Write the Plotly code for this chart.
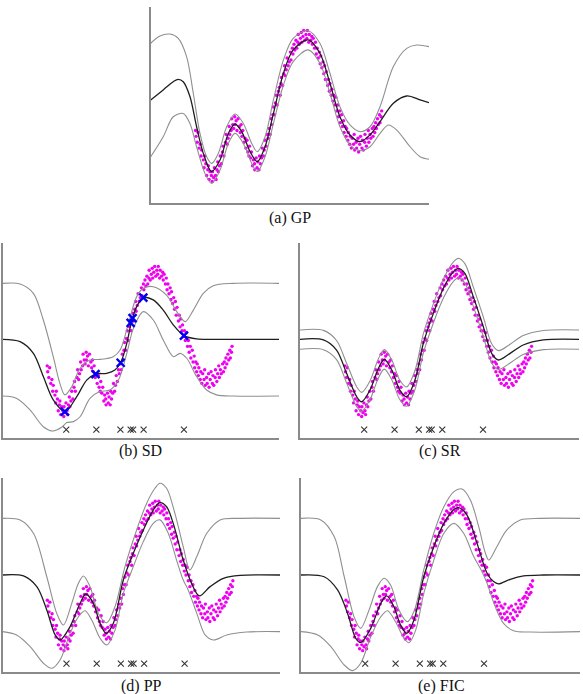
import plotly.graph_objects as go

# ---------------- data (normalised 0-100 coordinates in each panel box) ----------------
data_x = [16.1,16.3,16.7,17.0,17.4,17.8,18.1,18.3,18.9,19.2,19.4,19.8,20.1,20.5,20.7,21.0,21.3,21.8,
          22.1,22.2,22.6,22.9,23.3,23.5,23.8,24.1,24.3,24.7,25.0,25.4,25.8,26.0,26.3,26.9,27.1,27.5,27.8,
          28.2,28.4,28.9,29.1,29.5,29.8,30.2,30.3,30.7,31.0,31.4,31.9,32.2,32.5,32.8,33.1,33.5,33.9,
          34.2,34.6,34.9,35.3,35.5,35.9,36.2,36.6,36.9,37.3,37.4,37.9,38.2,38.5,38.9,39.1,39.4,39.8,
          40.1,40.5,40.8,41.1,41.5,41.9,42.2,42.6,42.9,43.3,43.5,43.9,44.1,44.5,44.8,45.1,45.4,45.9,
          46.2,46.5,46.8,47.0,47.4,47.8,48.1,48.3,48.7,49.0,49.4,49.8,50.2,50.4,50.9,51.1,51.5,51.8,
          52.2,52.5,52.9,53.0,53.4,53.8,54.1,54.3,54.7,55.0,55.4,55.8,56.1,56.3,56.8,57.0,57.5,57.9,
          58.1,58.4,58.9,59.2,59.5,59.8,60.2,60.6,60.9,61.1,61.5,61.9,62.2,62.5,62.8,63.1,63.6,63.9,
          64.2,64.4,64.9,65.1,65.5,65.8,66.1,66.5,66.9,67.2,67.5,67.9,68.1,68.6,68.9,69.3,69.5,69.9,
          70.2,70.4,70.8,71.0,71.5,71.7,72.1,72.4,72.9,73.1,73.3,73.8,74.0,74.5,74.7,75.1,75.4,75.9,
          76.1,76.4,76.9,77.0,77.5,77.8,78.2,78.4,78.8,79.1,79.6,79.9,80.2,80.5,80.8,81.1,81.5,81.8,
          82.2,82.4,82.8,83.0]
data_y = [37,34,31,36,28,30,24,27,22,18,24,20,14,17,19,12,16,14,
          11,16,13,18,14,12,17,21,16,19,24,20,26,29,24,31,35,30,33,
          39,35,37,43,40,38,44,40,42,37,43,39,36,40,34,37,31,33,
          28,32,26,24,29,23,26,19,22,20,17,23,18,21,17,24,20,23,
          28,24,27,32,29,35,33,38,35,43,40,45,49,45,51,55,50,57,
          59,55,61,64,60,66,70,65,68,74,70,72,77,73,79,76,81,78,
          83,79,82,86,81,84,87,82,85,88,83,86,84,88,82,86,83,85,
          81,84,79,82,76,79,74,77,71,75,69,72,66,70,63,67,60,63,
          57,61,55,58,52,55,50,54,47,50,44,47,41,45,39,42,36,39,
          34,38,32,36,30,34,28,33,30,35,27,31,28,33,26,30,34,28,
          32,27,31,35,29,33,37,31,35,33,38,34,39,36,41,38,43,40,
          45,41,44,47]

# (a) GP
gp_mean_x = [0,4.5,8.1,9.9,11.7,14.1,16.5,18.9,21.9,24.9,27.9,30.3,32.7,35.7,38.3,41.1,44.1,47.7,51.2,56.6,60.8,64.4,68.0,71.6,75.2,78.8,82.4,87.2,92.0,96.8,100]
gp_mean_y = [52.6,57.7,61.9,63.1,61.9,54.3,38.9,25.3,16.0,21.9,35.5,40.3,36.4,26.2,21.1,28.7,45.7,66.2,78.1,83.2,76.4,61.1,44.0,34.7,31.3,34.7,41.5,50.9,54.6,52.6,51.2]
gp_up_x = [0,3.3,6.9,9.9,12.9,15.3,17.7,20.1,21.9,24.3,27.3,30.3,33.3,36.3,38.3,41.1,44.1,47.7,51.2,56.6,60.8,64.4,68.0,71.6,75.2,78.8,82.4,87.2,92.0,95.6,100]
gp_up_y = [81.5,85.2,86.2,84.0,74.7,56.0,35.5,23.6,20.2,25.3,38.9,45.4,40.6,30.4,26.2,33.8,52.6,73.0,84.0,87.9,81.5,66.2,49.1,39.8,36.4,38.9,49.1,69.6,78.9,80.6,79.8]
gp_lo_x = [0,4.5,8.1,11.7,14.1,16.5,19.5,21.9,24.9,27.9,30.3,33.3,36.3,38.3,41.1,44.1,47.7,51.2,56.6,60.8,64.4,68.0,71.6,75.2,78.8,82.4,85.4,88.4,93.2,96.8,100]
gp_lo_y = [23.6,33.8,44.0,45.7,40.6,28.7,15.1,10.0,16.8,30.4,35.5,30.4,20.2,16.0,23.6,40.6,60.2,72.1,78.1,71.3,56.0,38.9,29.6,26.7,28.7,35.5,39.8,37.2,28.7,23.6,22.3]

# (b) SD
sd_mean_x = [0,6.3,11.1,14.7,18.3,22.5,26.8,30.4,33.6,37.6,40.6,42.7,44.9,46.7,48.5,50.9,54.5,58.1,61.8,65.6,70.2,77.4,100]
sd_mean_y = [50.6,49.4,43.4,31.5,19.5,13.5,21.2,29.7,32.8,33.2,34.9,38.6,48.5,60.2,67.4,72.0,70.8,65.6,57.9,52.5,50.8,50.6,50.6]
sd_up_x = [0,6.3,11.1,14.7,18.3,20.7,22.5,25.0,28.0,31.6,35.2,40.0,42.5,45.5,48.5,50.9,54.5,59.3,63.0,66.0,69.0,72.6,76.2,83.5,100]
sd_up_y = [79.3,79.0,74.2,60.5,41.7,28.0,22.1,26.3,35.7,40.0,40.3,41.7,45.1,58.8,72.5,76.8,77.6,73.3,64.8,59.7,65.6,74.2,78.1,79.3,79.3]
sd_lo_x = [0,5.1,9.9,14.7,18.3,21.3,23.2,25.6,28.0,31.6,35.2,38.8,41.9,44.9,47.3,50.9,54.5,58.1,61.8,64.2,66.6,70.2,73.8,77.4,83.5,100]
sd_lo_y = [21.5,20.3,14.4,5.8,3.6,5.5,7.9,8.4,10.9,20.3,23.8,24.6,29.7,43.4,56.2,64.8,60.5,50.3,41.7,43.4,40.9,31.5,24.6,22.1,21.5,21.5]
sd_active_x = [22.5,33.6,42.7,46.3,47.0,50.9,65.6]
sd_active_y = [13.5,32.8,38.6,59.0,61.5,72.0,52.5]

# (c) SR
sr_mean_x = [0,8.4,13.1,16.7,20.3,22.1,25.1,28.1,30.2,32.9,35.8,38.2,41.2,44.2,47.8,51.4,55.0,56.8,59.1,62.1,65.7,68.7,71.1,75.3,80.0,87.2,100]
sr_mean_y = [50.6,50.3,45.1,33.2,21.2,18.6,24.6,35.7,40.3,34.9,24.6,21.2,29.7,48.5,63.9,76.8,85.3,87.0,84.4,72.5,57.1,43.4,40.0,43.4,47.7,50.3,50.6]
sr_up_x = [0,8.4,13.1,16.7,20.3,22.1,25.1,28.1,30.2,32.9,35.8,38.2,41.2,44.2,47.8,51.4,55.0,56.8,59.1,62.1,65.7,68.7,71.1,75.3,80.0,87.2,100]
sr_up_y = [55.4,55.2,50.0,38.3,26.3,23.4,29.3,40.6,45.3,40.0,29.6,26.2,34.6,53.4,68.8,81.6,90.3,92.1,89.4,77.5,62.1,48.3,44.8,48.1,52.5,55.1,55.4]
sr_lo_x = [0,8.4,13.1,16.7,20.3,22.1,25.1,28.1,30.2,32.9,35.8,38.2,41.2,44.2,47.8,51.4,55.0,56.8,59.1,62.1,65.7,68.7,71.1,75.3,80.0,87.2,100]
sr_lo_y = [45.5,45.3,40.2,28.2,16.2,13.7,19.7,30.8,35.3,29.9,19.6,16.3,24.8,43.5,59.0,71.8,80.3,82.1,79.4,67.6,52.1,38.5,35.1,38.5,42.8,45.3,45.5]

# (d) PP
pp_mean_x = [0,7.5,12.3,15.9,18.9,20.7,24.3,27.9,30.0,32.7,35.1,37.3,39.9,43.5,47.1,50.7,54.3,56.7,59.1,61.5,65.1,68.1,70.9,74.8,79.6,85.6,100]
pp_mean_y = [50.0,49.5,44.0,32.0,19.1,16.5,23.4,35.4,40.2,35.4,25.1,19.9,25.1,47.4,61.2,73.2,83.5,87.3,85.2,76.6,57.7,45.7,39.2,44.0,48.3,49.8,50.0]
pp_up_x = [0,6.3,11.1,15.9,19.5,21.9,24.9,27.3,29.1,31.5,34.5,37.5,40.5,44.1,48.3,51.9,54.9,56.7,59.1,62.1,65.1,67.5,70.0,73.6,78.4,85.6,100]
pp_up_y = [79.2,78.4,71.5,49.1,30.2,24.2,35.4,45.7,49.5,44.0,30.2,25.4,33.7,54.3,73.2,86.9,94.7,97.3,94.7,81.8,64.6,52.6,59.5,71.5,78.4,79.2,79.2]
pp_lo_x = [0,5.0,9.9,14.7,17.7,20.7,24.3,27.3,29.7,32.1,35.1,37.5,40.5,43.5,47.1,50.7,54.3,56.7,59.7,62.7,65.1,66.9,70.0,73.0,76.0,80.8,88.0,100]
pp_lo_y = [20.8,19.1,13.1,4.5,1.9,6.2,19.9,28.5,31.6,26.8,17.4,13.9,21.6,40.5,54.3,67.2,76.6,78.4,71.5,57.7,47.4,42.3,30.2,19.1,16.5,19.1,20.6,20.8]

# (e) FIC
fic_mean_x = [0,8.3,13.1,16.7,19.6,21.4,25.0,28.6,30.7,33.3,35.7,37.9,40.5,44.0,47.6,51.2,54.8,56.5,59.5,63.1,66.7,69.0,70.8,75.0,79.8,86.9,100]
fic_mean_y = [50.0,49.1,42.3,30.2,17.4,15.1,22.5,35.4,39.2,33.7,24.2,19.9,26.8,49.1,64.6,76.6,83.8,84.7,80.9,66.3,50.9,46.6,45.4,47.8,49.5,50.0,50.0]
fic_up_x = [0,7.1,11.9,15.5,19.0,21.4,24.4,27.4,29.8,32.1,35.1,38.1,40.7,44.0,47.6,51.2,54.8,57.7,60.7,63.7,66.1,67.3,70.2,73.8,78.6,85.7,100]
fic_up_y = [79.2,78.4,69.8,49.1,28.5,22.5,32.0,44.0,48.3,44.8,32.0,25.9,32.0,52.6,71.5,85.2,93.0,94.3,88.7,74.9,61.2,57.7,64.6,73.2,78.4,79.2,79.2]
fic_lo_x = [0,6.0,10.7,15.5,18.5,21.4,25.0,28.6,31.0,33.9,36.9,38.7,41.1,44.0,47.6,51.2,54.8,58.3,61.9,64.9,66.7,69.6,72.6,76.2,82.1,100]
fic_lo_y = [20.8,19.1,13.1,3.6,0.7,4.5,18.2,28.5,31.6,25.9,17.4,15.1,21.6,40.5,57.7,71.5,76.6,71.5,59.5,51.7,45.7,33.7,25.1,21.3,20.6,20.8]

# inducing input locations (shown as crosses near the bottom)
inducing_x = [23.0, 33.9, 42.6, 46.3, 47.2, 51.0, 65.6]
inducing_y = [4.3, 4.3, 4.3, 4.3, 4.3, 4.3, 4.3]

captions = ["(a) GP", "(b) SD", "(c) SR", "(d) PP", "(e) FIC"]

# ---------------- layout geometry ----------------
W, H = 583, 694
boxes = [  # left, right, top, bottom in pixels
    (150.7, 429, 7, 203),
    (2.7, 279, 243, 438),
    (300, 579, 243, 438),
    (2.7, 280, 478, 672),
    (301, 580, 478, 672),
]
caption_pos = [(290, 218), (140, 451), (440, 451), (141, 686), (441, 686)]

panels = [
    (gp_mean_x, gp_mean_y, gp_up_x, gp_up_y, gp_lo_x, gp_lo_y, False),
    (sd_mean_x, sd_mean_y, sd_up_x, sd_up_y, sd_lo_x, sd_lo_y, True),
    (sr_mean_x, sr_mean_y, sr_up_x, sr_up_y, sr_lo_x, sr_lo_y, True),
    (pp_mean_x, pp_mean_y, pp_up_x, pp_up_y, pp_lo_x, pp_lo_y, True),
    (fic_mean_x, fic_mean_y, fic_up_x, fic_up_y, fic_lo_x, fic_lo_y, True),
]

BAND = "#8f8f8f"
MEAN = "#1e1e1e"
DOT = "#f000f0"

fig = go.Figure()
layout = dict(width=W, height=H, margin=dict(l=0, r=0, t=0, b=0),
              paper_bgcolor="white", plot_bgcolor="white", showlegend=False)

for i, (mx, my, ux, uy, lx, ly, has_ind) in enumerate(panels):
    n = "" if i == 0 else str(i + 1)
    xa, ya = "x" + n, "y" + n
    l, r, t, b = boxes[i]
    axis_common = dict(showgrid=False, zeroline=False, showticklabels=False, ticks="",
                       showline=True, linecolor="#8a8a8a", linewidth=1.6, fixedrange=True)
    layout["xaxis" + n] = dict(domain=[l / W, r / W], range=[0, 100], anchor=ya, **axis_common)
    layout["yaxis" + n] = dict(domain=[1 - b / H, 1 - t / H], range=[0, 100], anchor=xa, **axis_common)

    fig.add_trace(go.Scatter(x=data_x, y=data_y, mode="markers", xaxis=xa, yaxis=ya,
                             marker=dict(size=3.4, color=DOT, line=dict(width=0))))
    for bx, by in ((ux, uy), (lx, ly)):
        fig.add_trace(go.Scatter(x=bx, y=by, mode="lines", xaxis=xa, yaxis=ya,
                                 line=dict(color=BAND, width=1.1, shape="spline", smoothing=0.9)))
    fig.add_trace(go.Scatter(x=mx, y=my, mode="lines", xaxis=xa, yaxis=ya,
                             line=dict(color=MEAN, width=1.3, shape="spline", smoothing=0.9)))
    if has_ind:
        fig.add_trace(go.Scatter(x=inducing_x, y=inducing_y, mode="markers", xaxis=xa, yaxis=ya,
                                 marker=dict(symbol="x-thin", size=6, color="#333333",
                                             line=dict(width=1.1, color="#333333"))))
    if i == 1:
        fig.add_trace(go.Scatter(x=sd_active_x, y=sd_active_y, mode="markers", xaxis=xa, yaxis=ya,
                                 marker=dict(symbol="x-thin", size=8, color="#0000ee",
                                             line=dict(width=2.4, color="#0000ee"))))

annotations = []
for (cx, cy), txt in zip(caption_pos, captions):
    annotations.append(dict(text=txt, x=cx / W, y=1 - cy / H, xref="paper", yref="paper",
                            showarrow=False, xanchor="center", yanchor="middle",
                            font=dict(family="Liberation Serif, serif", size=16, color="#111111")))
layout["annotations"] = annotations
fig.update_layout(**layout)

fig.write_html("out.html")
